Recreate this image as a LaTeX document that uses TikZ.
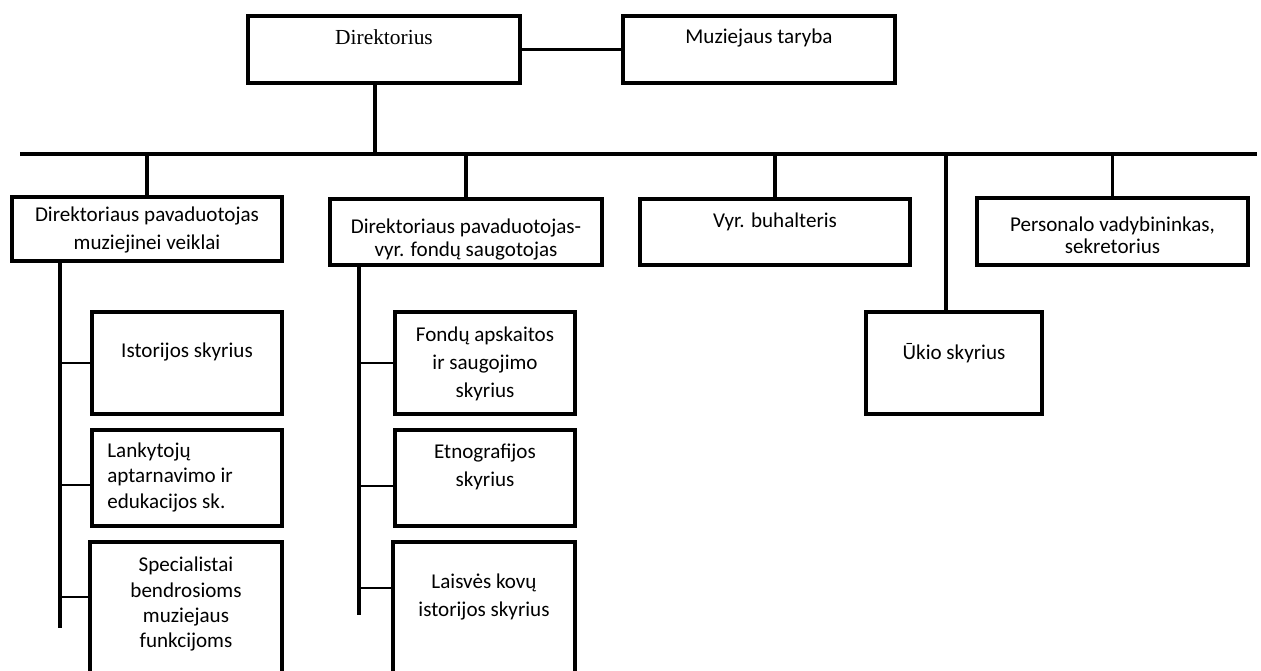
\documentclass[tikz,border=0pt]{standalone}
\usepackage{fontspec}
\setmainfont{Carlito}
\newfontfamily\timesfont{Liberation Serif}
\usetikzlibrary{fit}
\usetikzlibrary{calc}
\usetikzlibrary{positioning}

\begin{document}
\begin{tikzpicture}[
  x=0.02cm, y=-0.02cm,
  unit/.style={draw, rectangle, line width=0.08cm, inner sep=0pt, outer sep=0pt},
  txt/.style={font=\fontsize{12}{15.9}\selectfont, align=center, inner sep=0pt},
  drop/.style={txt, anchor=north, yshift=-#1},
  link/.style={line width=0.066cm},
  twig/.style={line width=0.055cm},
]

\useasboundingbox (0,0) rectangle (1261,670);
\clip (0,0) rectangle (1261,670);

% top level
\node (dir) [unit, fit={(248,16) (520,83)},
  label={[drop=0.26cm, font=\timesfont\fontsize{12.2}{15}\selectfont]north:{Direktorius}}] {};
\node (taryba) [unit, fit={(623,16) (895,83)},
  label={[drop=0.26cm]north:{Muziejaus taryba}}] {};

\draw[link] (dir.east) -- (dir.east -| taryba.west);

\coordinate (bus) at (20,154);
\coordinate (busR) at (1257,154);
\draw[link] (bus) -- (busR);

\coordinate (dirfoot) at ([xshift=-0.18cm]dir.south);
\draw[link] (dirfoot) -- (dirfoot |- bus);

% second level
\node (pav1) [unit, fit={(12,197) (282,261)},
  label={[drop=0.2cm]north:{Direktoriaus pavaduotojas\\muziejinei veiklai}}] {};
\node (pav2) [unit, fit={(330,199) (602,265)},
  label={[drop=0.4cm, font=\fontsize{12}{12.8}\selectfont]north:{Direktoriaus pavaduotojas-\\vyr. fondų saugotojas}}] {};
\node (buh) [unit, fit={(640,199) (910,265)},
  label={[drop=0.28cm]north:{Vyr. buhalteris}}] {};
\node (pers) [unit, fit={(977,198) (1248,265)},
  label={[drop=0.38cm, font=\fontsize{12}{12.2}\selectfont]north:{Personalo vadybininkas,\\sekretorius}}] {};
\node (ukis) [unit, fit={(866,312) (1042,414)},
  label={[drop=0.62cm]north:{Ūkio skyrius}}] {};

\foreach \n in {pav1,pav2,buh,pers} {
  \draw[link] (\n.north) -- (\n.north |- bus);
}
\coordinate (ukitop) at ([xshift=-0.16cm]ukis.north);
\draw[link] (ukitop) -- (ukitop |- bus);

% departments under pav1
\node (ist) [unit, fit={(92,312) (282,414)},
  label={[drop=0.62cm]north:{Istorijos skyrius}}] {};
\node (lank) [unit, fit={(92,430) (282,526)},
  label={[txt, align=left, anchor=north west, xshift=0.3cm, yshift=-0.25cm,
          font=\fontsize{12}{14.4}\selectfont]north west:{Lankytojų\\aptarnavimo ir\\edukacijos sk.}}] {};
\node (spec) [unit, fit={(90,542) (282,700)},
  label={[drop=0.3cm, font=\fontsize{12}{14.4}\selectfont]north:{Specialistai\\bendrosioms\\muziejaus\\funkcijoms}}] {};

\coordinate (sp1) at (60,628);
\draw[link] (pav1.south -| sp1) -- (sp1);
\draw[twig] (ist.west -| sp1) -- (ist.west);
\draw[twig] ([yshift=-0.14cm]lank.west) -- ([yshift=-0.14cm]lank.west -| sp1);
\draw[twig] ([yshift=0.48cm]spec.west) -- ([yshift=0.48cm]spec.west -| sp1);

% departments under pav2
\node (fond) [unit, fit={(395,312) (575,414)},
  label={[drop=0.3cm]north:{Fondų apskaitos\\ir saugojimo\\skyrius}}] {};
\node (etno) [unit, fit={(395,430) (575,526)},
  label={[drop=0.28cm]north:{Etnografijos\\skyrius}}] {};
\node (laisv) [unit, fit={(393,542) (575,700)},
  label={[drop=0.64cm]north:{Laisvės kovų\\istorijos skyrius}}] {};

\coordinate (sp2) at (359,615);
\draw[link] (pav2.south -| sp2) -- (sp2);
\draw[twig] (fond.west -| sp2) -- (fond.west);
\draw[twig] ([yshift=-0.16cm]etno.west) -- ([yshift=-0.16cm]etno.west -| sp2);
\draw[twig] ([yshift=0.66cm]laisv.west) -- ([yshift=0.66cm]laisv.west -| sp2);

\end{tikzpicture}
\end{document}
